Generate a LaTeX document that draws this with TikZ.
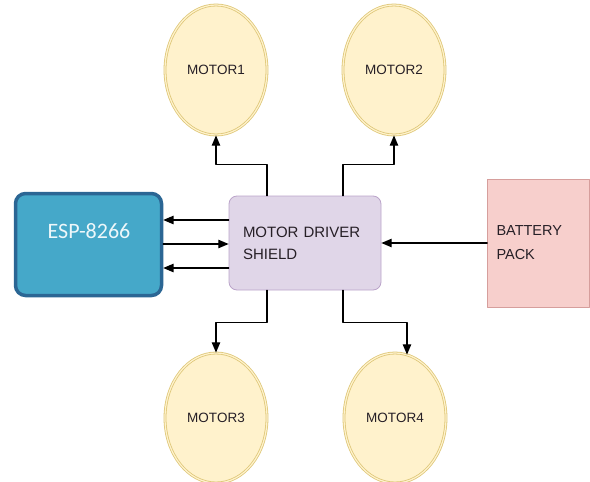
\documentclass[tikz,border=0pt]{standalone}
\usepackage{fontspec}
\setmainfont{Liberation Sans}
\newfontfamily\espfont{Carlito}
\usepackage{tikz}
\usetikzlibrary{arrows,shapes.geometric}
\definecolor{fffccc}{rgb}{1,0.95,0.80}
\definecolor{ddccaa}{rgb}{0.87,0.78,0.47}
\definecolor{qqaacc}{rgb}{0.27,0.66,0.79}
\definecolor{qq6699}{rgb}{0.17,0.40,0.58}
\definecolor{eeddee}{rgb}{0.88,0.84,0.91}
\definecolor{bbaacc}{rgb}{0.73,0.64,0.79}
\definecolor{ffcccc}{rgb}{0.97,0.81,0.80}
\definecolor{dd9999}{rgb}{0.84,0.62,0.61}
\definecolor{eeffff}{rgb}{0.93,0.97,0.98}
\definecolor{qqqqqq}{rgb}{0.15,0.12,0.15}

\begin{document}
\begin{tikzpicture}[line cap=round,line join=round,>=triangle 45,x=1pt,y=-1pt]
\useasboundingbox (0,0) rectangle (590,482);
\tikzset{
  motor/.style={ellipse,draw=ddccaa,fill=fffccc,line width=0.8pt,double=fffccc,double distance=1.2pt,
    minimum width=102pt,minimum height=130pt,inner sep=0pt,text=qqqqqq,font=\fontsize{13.5}{15}\selectfont},
  link/.style={->,line width=1.4pt,color=black}
}

\node[draw=qq6699,fill=qqaacc,line width=3.5pt,rounded corners=10pt,minimum width=146pt,minimum height=102pt] (esp) at (88.5,244.5) {};
\node[text=eeffff,font=\espfont\fontsize{22}{24}\selectfont] (esptxt) at (89,231) {ESP-8266};
\node[draw=bbaacc,fill=eeddee,line width=0.8pt,rounded corners=8pt,minimum height=94pt,text width=124pt,inner xsep=14pt,align=left,text=qqqqqq,font=\fontsize{15}{22}\selectfont] (drv) at (305,243) {MOTOR DRIVER\\SHIELD};
\node[draw=dd9999,fill=ffcccc,line width=0.8pt,minimum height=128pt,text width=84pt,inner xsep=9pt,align=left,text=qqqqqq,font=\fontsize{14.5}{24}\selectfont] (bat) at (538.5,243) {BATTERY\\PACK};

\node[motor] (m1) at (216,70) {MOTOR1};
\node[motor] (m2) at (394,70) {MOTOR2};
\node[motor] (m3) at (216,418) {MOTOR3};
\node[motor] (m4) at (395,418) {MOTOR4};

%% esp <-> driver
\coordinate (p1) at ([yshift=23pt]drv.west);
\coordinate (p2) at ([yshift=-1pt]drv.west);
\coordinate (p3) at ([yshift=-25pt]drv.west);
\draw[link] (p1) -- (p1 -| esp.east);
\draw[link] (p2 -| esp.east) -- (p2);
\draw[link] (p3) -- (p3 -| esp.east);
\draw[link] (bat) -- (drv);

%% driver -> motors
\draw[link] ([xshift=-38pt]drv.north) -- ++(0,-31) -| (m1);
\draw[link] ([xshift=38pt]drv.north) -- ++(0,-31) -| (m2);
\draw[link] ([xshift=-38pt]drv.south) -- ++(0,32) -| (m3);
\draw[link] ([xshift=38pt]drv.south) -- ++(0,32) -| ([xshift=12pt,yshift=-2pt]m4.north);
\end{tikzpicture}
\end{document}
